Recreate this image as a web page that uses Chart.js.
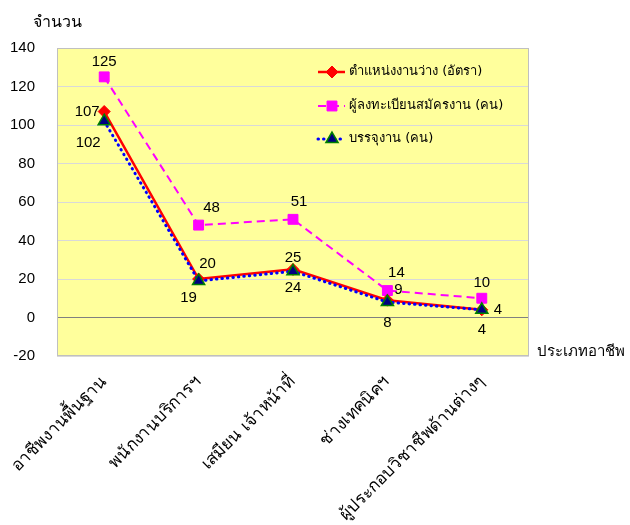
<!DOCTYPE html>
<html>
<head>
<meta charset="utf-8">
<script src="https://cdn.jsdelivr.net/npm/chart.js@4.4.1/dist/chart.umd.min.js"></script>
<style>
  body { margin: 0; background: #fff; }
</style>
</head>
<body>
<canvas id="myChart" width="630" height="525"></canvas>
<script>
const ctx = document.getElementById('myChart');

const categorias = ['อาชีพงานพื้นฐาน', 'พนักงานบริการฯ', 'เสมียน เจ้าหน้าที่', 'ช่างเทคนิคฯ', 'ผู้ประกอบวิชาชีพด้านต่างๆ']
const nomesSeries = ['ตำแหน่งงานว่าง (อัตรา)', 'ผู้ลงทะเบียนสมัครงาน (คน)', 'บรรจุงาน (คน)']
const vagas = [107, 20, 25, 9, 4]
const inscritos = [125, 48, 51, 14, 10]
const colocados = [102, 19, 24, 8, 4]
const yTicks = [-20, 0, 20, 40, 60, 80, 100, 120, 140]

// deslocamento dos rotulos (dx, dy) a partir do ponto
const offsetsRotulos = [
  [[-17, 0], [9, -15], [0, -12], [11, -10], [16, 0]],
  [[0, -15], [13, -17], [6, -17], [9, -18], [0, -15]],
  [[-16, 22], [-10, 17], [0, 17], [0, 21], [0, 20]]
]

const fonteThai = 'Tahoma, "DejaVu Sans", sans-serif'
const fonteNum = '"Liberation Sans", Arial, sans-serif'

const fundoPlot = {
  id: 'fundoPlot',
  beforeDraw(chart) {
    const { ctx, chartArea: a } = chart
    ctx.save()
    ctx.fillStyle = '#FFFF9C'
    ctx.fillRect(a.left, a.top, a.right - a.left, a.bottom - a.top)
    ctx.restore()
  },
  beforeDatasetsDraw(chart) {
    const { ctx, chartArea: a } = chart
    ctx.save()
    ctx.strokeStyle = '#C0C0C0'
    ctx.lineWidth = 1
    ctx.strokeRect(a.left + 0.5, a.top + 0.5, a.right - a.left - 1, a.bottom - a.top - 1)
    ctx.restore()
  }
}

const rotulos = {
  id: 'rotulos',
  afterDatasetsDraw(chart) {
    const c = chart.ctx
    c.save()
    c.font = '15px ' + fonteNum
    c.fillStyle = '#000'
    c.textAlign = 'center'
    c.textBaseline = 'middle'
    chart.data.datasets.forEach((ds, i) => {
      chart.getDatasetMeta(i).data.forEach((p, j) => {
        const o = offsetsRotulos[i][j]
        c.fillText(ds.data[j], p.x + o[0], p.y + o[1])
      })
    })
    // titulos dos eixos
    c.font = '16px ' + fonteThai
    c.textAlign = 'left'
    c.fillText('จำนวน', 33, 23)
    c.font = '15px ' + fonteThai
    c.fillText('ประเภทอาชีพ', 537, 352)

    // legenda
    const ys = [72, 106, 139]
    chart.data.datasets.forEach((ds, i) => {
      const y = ys[i]
      c.save()
      c.strokeStyle = ds.borderColor
      c.lineWidth = ds.borderWidth
      c.setLineDash(ds.borderDash || [])
      c.lineCap = ds.borderCapStyle || 'butt'
      c.beginPath()
      c.moveTo(318, y)
      c.lineTo(345, y)
      c.stroke()
      c.restore()
      c.save()
      c.fillStyle = ds.pointBackgroundColor
      c.strokeStyle = ds.pointBorderColor
      c.lineWidth = ds.pointBorderWidth
      Chart.helpers.drawPoint(c, { pointStyle: ds.pointStyle, radius: ds.pointRadius, borderWidth: ds.pointBorderWidth }, 332, y)
      c.restore()
      c.font = '13px ' + fonteThai
      c.fillStyle = '#000'
      c.textAlign = 'left'
      c.fillText(ds.label, 349, y)
    })
    c.restore()
  }
}

const chart = new Chart(ctx, {
  type: 'line',
  data: {
    labels: categorias,
    datasets: [
      {
        label: nomesSeries[0],
        data: vagas,
        borderColor: '#FF0000',
        borderWidth: 2.5,
        pointStyle: 'rectRot',
        pointRadius: 6,
        pointBackgroundColor: '#FF0000',
        pointBorderColor: '#FF0000',
        pointBorderWidth: 1,
        order: 2
      },
      {
        label: nomesSeries[1],
        data: inscritos,
        borderColor: '#FF00FF',
        borderWidth: 2,
        borderDash: [8, 5],
        pointStyle: 'rect',
        pointRadius: 7,
        pointBackgroundColor: '#FF00FF',
        pointBorderColor: '#FF00FF',
        pointBorderWidth: 1,
        order: 3
      },
      {
        label: nomesSeries[2],
        data: colocados,
        borderColor: '#0000FF',
        borderWidth: 3,
        borderDash: [0.5, 5],
        borderCapStyle: 'round',
        pointStyle: 'triangle',
        pointRadius: 7,
        pointBackgroundColor: '#000080',
        pointBorderColor: '#008000',
        pointBorderWidth: 1.5,
        order: 1
      }
    ]
  },
  options: {
    responsive: false,
    animation: false,
    layout: { padding: { top: 48, right: 101, left: 0, bottom: 0 } },
    plugins: {
      legend: { display: false },
      tooltip: { enabled: false }
    },
    scales: {
      x: {
        offset: true,
        grid: { display: false },
        border: { display: false },
        ticks: {
          minRotation: 45,
          maxRotation: 45,
          padding: 8,
          color: '#000',
          font: { family: fonteThai, size: 17 }
        },
        afterFit(scale) { scale.height = 169 }
      },
      y: {
        min: -20,
        max: 140,
        afterBuildTicks(scale) { scale.ticks = yTicks.map(v => ({ value: v })) },
        grid: {
          drawTicks: false,
          color: (c) => c.tick && c.tick.value === 0 ? '#808080' : '#D9D9D9',
          lineWidth: 1
        },
        border: { display: false },
        ticks: {
          padding: 22,
          color: '#000',
          font: { family: fonteNum, size: 15 }
        },
        afterFit(scale) { scale.width = 57 }
      }
    }
  },
  plugins: [fundoPlot, rotulos]
});
</script>
</body>
</html>
